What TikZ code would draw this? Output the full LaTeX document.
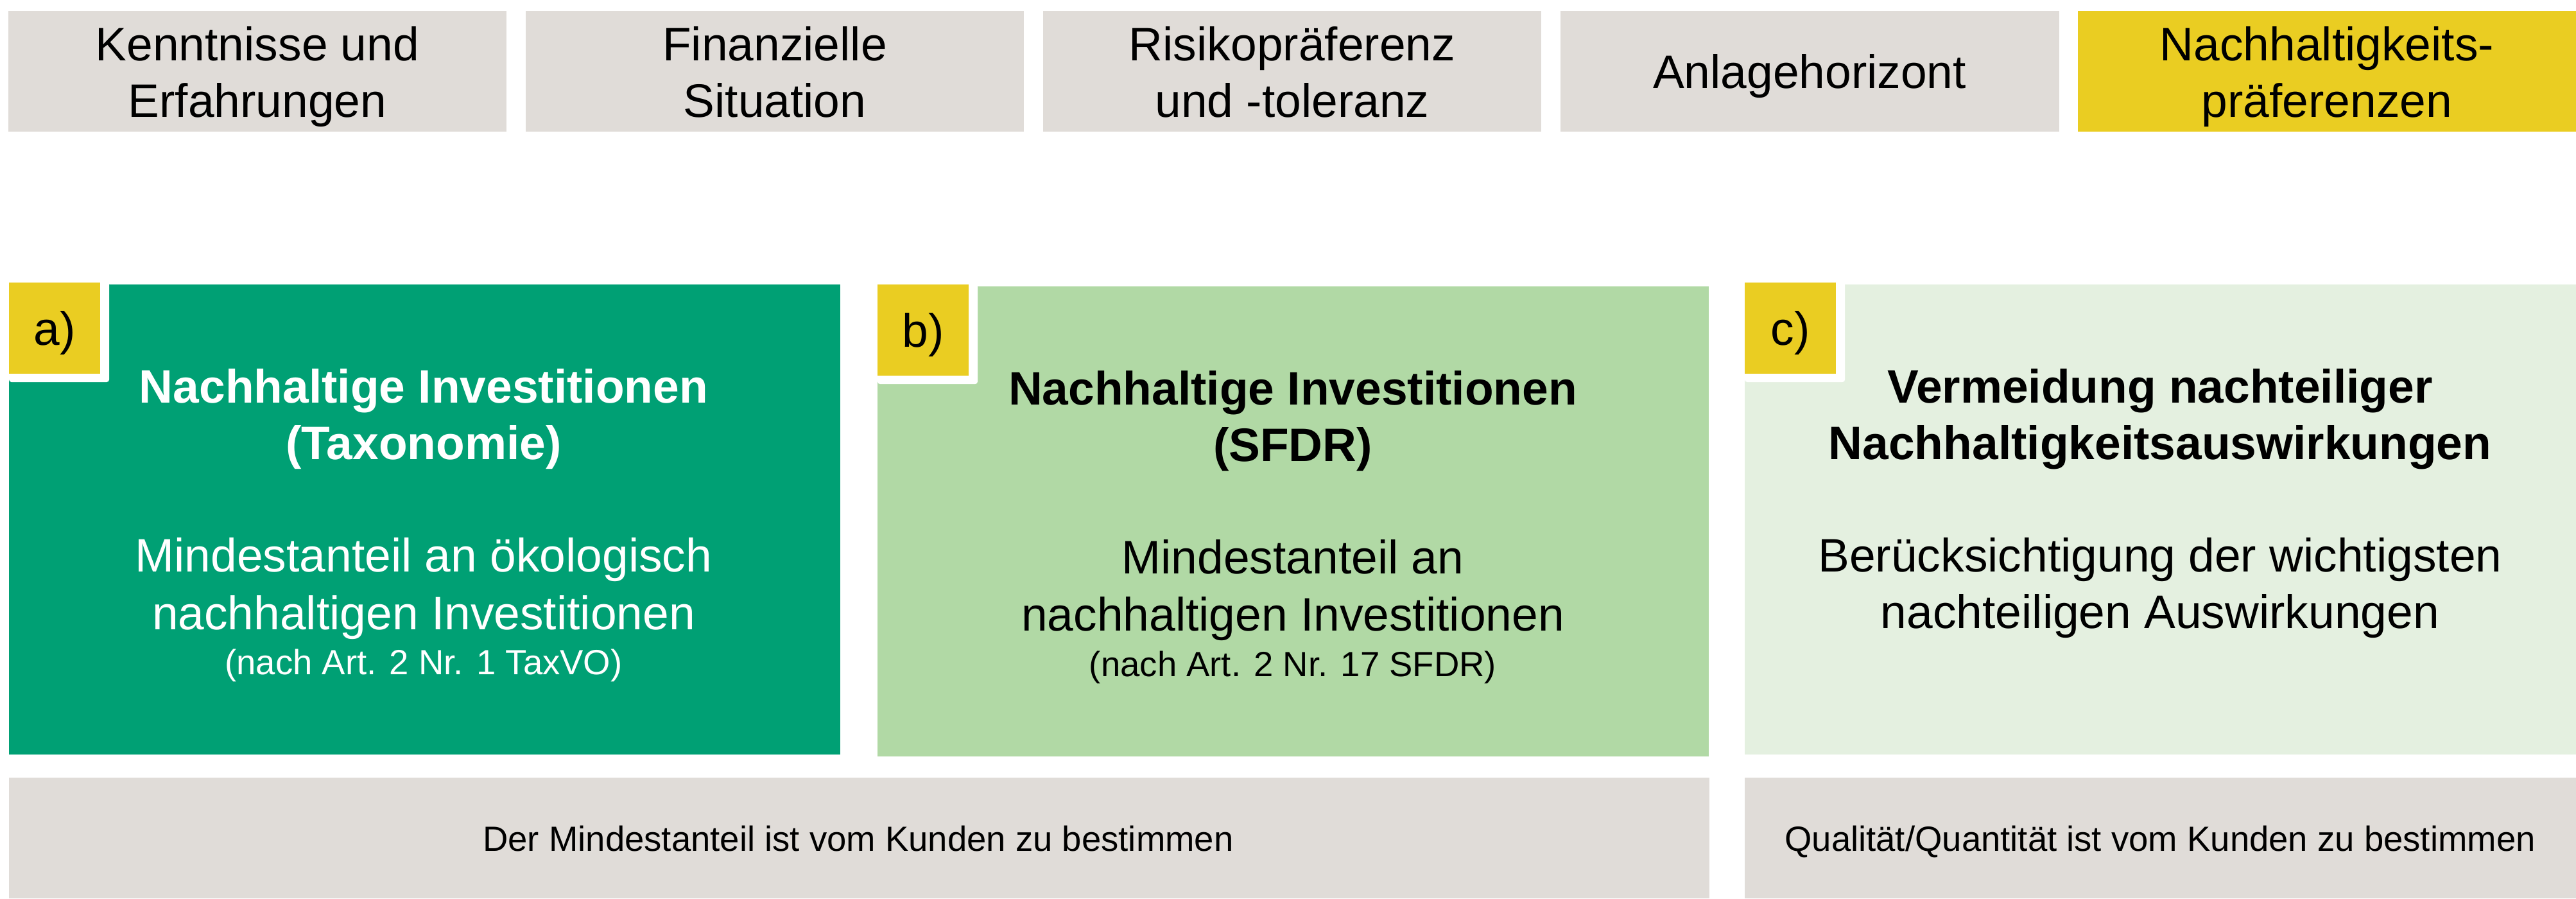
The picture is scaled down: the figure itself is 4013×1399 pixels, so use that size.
\documentclass[tikz,border=0pt]{standalone}
\usepackage{fontspec}
\setmainfont{Liberation Sans}
\definecolor{boxgray}{HTML}{E0DCD8}
\definecolor{labelyellow}{HTML}{EACD22}
\definecolor{darkgreen}{HTML}{00A074}
\definecolor{midgreen}{HTML}{B1D9A5}
\definecolor{palegreen}{HTML}{E4F0E0}
\begin{document}
\begin{tikzpicture}[x=0.01cm,y=-0.01cm,
  box/.style={rectangle, inner sep=0pt, outer sep=0pt, anchor=north west},
  topbox/.style={box, fill=boxgray, minimum width=7.76cm, minimum height=1.88cm},
  midbox/.style={box, minimum width=12.94cm, minimum height=7.32cm},
  labelbox/.style={box, fill=labelyellow, minimum width=1.42cm, minimum height=1.42cm},
  labelrim/.style={box, fill=white, rounded corners=0.04cm, minimum width=1.56cm, minimum height=1.55cm},
  bottombox/.style={box, fill=boxgray, minimum height=1.88cm},
  big/.style={anchor=base, inner sep=0pt, font=\fontsize{20.8}{25}\selectfont},
  bigbold/.style={big, font=\fontsize{20.8}{25}\selectfont\bfseries},
  small/.style={anchor=base, inner sep=0pt, font=\fontsize{15.5}{18}\selectfont},
  foot/.style={anchor=base, inner sep=0pt, font=\fontsize{15.5}{18}\selectfont}]
\useasboundingbox (0,0) rectangle (4013,1399);

% top row
\node[topbox] (t1) at (13,17) {};
\node[topbox] (t2) at (819,17) {};
\node[topbox] (t3) at (1625,17) {};
\node[topbox] (t4) at (2431,17) {};
\node[topbox, fill=labelyellow] (t5) at (3237,17) {};

\node[big] (t1a) at (401,94) {Kenntnisse und};
\node[big] (t1b) at (401,182) {Erfahrungen};
\node[big] (t2a) at (1207,94) {Finanzielle};
\node[big] (t2b) at (1207,182) {Situation};
\node[big] (t3a) at (2013,94) {Risikopräferenz};
\node[big] (t3b) at (2013,182) {und -toleranz};
\node[big] (t4a) at (2819,137) {Anlagehorizont};
\node[big] (t5a) at (3625,94) {Nachhaltigkeits-};
\node[big] (t5b) at (3625,182) {präferenzen};

% middle boxes
\node[midbox, fill=darkgreen] (ma) at (14,443) {};
\node[midbox, fill=midgreen] (mb) at (1367,446) {};
\node[midbox, fill=palegreen, minimum width=12.95cm] (mc) at (2718,443) {};

% labels
\node[labelrim] (ra) at (14,440) {};
\node[labelbox] (la) at (14,440) {};
\node[big] (lat) at (85,537) {a)};
\node[labelrim] (rb) at (1367,443) {};
\node[labelbox] (lb) at (1367,443) {};
\node[big] (lbt) at (1438,540) {b)};
\node[labelrim] (rc) at (2718,440) {};
\node[labelbox] (lc) at (2718,440) {};
\node[big] (lct) at (2789,537) {c)};

% box a text
\begin{scope}[every node/.append style={text=white}]
\node[bigbold] (a1) at (660,627) {Nachhaltige Investitionen};
\node[bigbold] (a2) at (660,715) {(Taxonomie)};
\node[big] (a3) at (660,890) {Mindestanteil an ökologisch};
\node[big] (a4) at (660,980) {nachhaltigen Investitionen};
\node[small] (a5) at (660,1050) {(nach Art. 2 Nr. 1 TaxVO)};
\end{scope}

% box b text
\node[bigbold] (b1) at (2014,630) {Nachhaltige Investitionen};
\node[bigbold] (b2) at (2014,718) {(SFDR)};
\node[big] (b3) at (2014,893) {Mindestanteil an};
\node[big] (b4) at (2014,982) {nachhaltigen Investitionen};
\node[small] (b5) at (2014,1053) {(nach Art. 2 Nr. 17 SFDR)};

% box c text
\node[bigbold] (c1) at (3365,627) {Vermeidung nachteiliger};
\node[bigbold] (c2) at (3365,715) {Nachhaltigkeitsauswirkungen};
\node[big] (c3) at (3365,890) {Berücksichtigung der wichtigsten};
\node[big] (c4) at (3365,978) {nachteiligen Auswirkungen};

% bottom bars
\node[bottombox, minimum width=26.47cm] (f1) at (14,1211) {};
\node[bottombox, minimum width=12.95cm] (f2) at (2718,1211) {};
\node[foot] (f1t) at (1337,1325) {Der Mindestanteil ist vom Kunden zu bestimmen};
\node[foot] (f2t) at (3365,1325) {Qualität/Quantität ist vom Kunden zu bestimmen};
\end{tikzpicture}
\end{document}
